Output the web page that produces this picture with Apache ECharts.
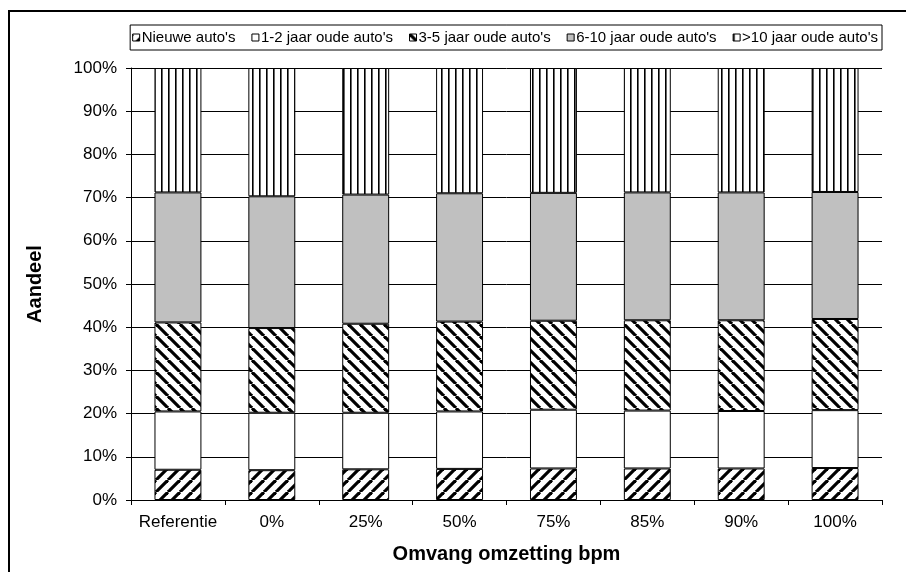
<!DOCTYPE html>
<html>
<head>
<meta charset="utf-8">
<script src="https://cdn.jsdelivr.net/npm/echarts@6/dist/echarts.min.js"></script>
<style>
  html, body { margin: 0; padding: 0; background: #fff; }
  #chart { width: 906px; height: 572px; }
</style>
</head>
<body>
<div id="chart"></div>
<script>
// Share of the car fleet by age class, per conversion scenario of the BPM tax
const categories = ['Referentie', '0%', '25%', '50%', '75%', '85%', '90%', '100%'];
const seriesNames = ["Nieuwe auto's", "1-2 jaar oude auto's", "3-5 jaar oude auto's", "6-10 jaar oude auto's", ">10 jaar oude auto's"];
const nieuw      = [7.0, 6.9, 7.1, 7.2, 7.3, 7.3, 7.3, 7.4];
const jaar1tot2  = [13.5, 13.3, 13.1, 13.3, 13.6, 13.4, 13.3, 13.4];
const jaar3tot5  = [20.6, 19.6, 20.6, 20.8, 20.6, 20.9, 21.0, 21.1];
const jaar6tot10 = [30.1, 30.5, 29.9, 29.7, 29.6, 29.6, 29.6, 29.4];
const ouder10    = [28.8, 29.7, 29.3, 29.0, 28.9, 28.8, 28.8, 28.7];
const yTicks = [0, 10, 20, 30, 40, 50, 60, 70, 80, 90, 100];

const FONT = "'Liberation Sans', Arial, sans-serif";

// Hatch fills drawn on small canvases and tiled by ECharts
function diagonalTile(size, width, forward) {
  const c = document.createElement('canvas');
  c.width = size; c.height = size;
  const g = c.getContext('2d');
  g.fillStyle = '#fff';
  g.fillRect(0, 0, size, size);
  g.strokeStyle = '#000';
  g.lineWidth = width;
  for (const k of [-size, 0, size]) {
    g.beginPath();
    if (forward) { g.moveTo(k, size); g.lineTo(k + size, 0); }
    else { g.moveTo(k, 0); g.lineTo(k + size, size); }
    g.stroke();
  }
  return c;
}
function verticalTile(period, width) {
  const c = document.createElement('canvas');
  c.width = period; c.height = 4;
  const g = c.getContext('2d');
  g.fillStyle = '#fff';
  g.fillRect(0, 0, period, 4);
  g.fillStyle = '#000';
  g.fillRect(0, 0, width, 4);
  return c;
}

const fills = [
  { image: diagonalTile(12, 3.2, true), repeat: 'repeat' },
  '#ffffff',
  { image: diagonalTile(12, 3.2, false), repeat: 'repeat' },
  '#c0c0c0',
  { image: verticalTile(7, 1.6), repeat: 'repeat' }
];
const values = [nieuw, jaar1tot2, jaar3tot5, jaar6tot10, ouder10];

const chart = echarts.init(document.getElementById('chart'), null, { renderer: 'canvas' });
chart.setOption({
  animation: false,
  backgroundColor: '#fff',
  textStyle: { fontFamily: FONT },
  graphic: [{
    type: 'rect',
    shape: { x: 9, y: 11, width: 1000, height: 1000 },
    style: { fill: 'none', stroke: '#000', lineWidth: 2 },
    silent: true
  }],
  legend: {
    right: 24,
    top: 25,
    orient: 'horizontal',
    itemWidth: 7,
    itemHeight: 7,
    itemGap: 16,
    padding: [4, 4, 4, 2],
    borderColor: '#000',
    borderWidth: 1,
    icon: 'rect',
    textStyle: { fontFamily: FONT, fontSize: 15, lineHeight: 17, color: '#000', padding: [0, 0, 0, -3] },
    itemStyle: { borderColor: '#000', borderWidth: 1 },
    data: seriesNames
  },
  grid: { left: 131, right: 24, top: 68, height: 432, containLabel: false },
  xAxis: {
    type: 'category',
    data: categories,
    name: 'Omvang omzetting bpm',
    nameLocation: 'middle',
    nameGap: 44,
    nameTextStyle: { fontFamily: FONT, fontSize: 20, fontWeight: 'bold', color: '#000' },
    axisLine: { lineStyle: { color: '#000', width: 1 } },
    axisTick: { show: true, length: 5, lineStyle: { color: '#000' } },
    axisLabel: { fontFamily: FONT, fontSize: 17, color: '#000', margin: 14, interval: 0 },
    splitLine: { show: false }
  },
  yAxis: {
    type: 'value',
    min: 0,
    max: 100,
    interval: 10,
    name: 'Aandeel',
    nameLocation: 'middle',
    nameGap: 86,
    nameRotate: 90,
    nameTextStyle: { fontFamily: FONT, fontSize: 20, fontWeight: 'bold', color: '#000' },
    axisLine: { show: true, lineStyle: { color: '#000', width: 1 } },
    axisTick: { show: true, length: 5, lineStyle: { color: '#000' } },
    axisLabel: {
      fontFamily: FONT, fontSize: 17, color: '#000', margin: 14,
      formatter: v => yTicks.includes(v) ? v + '%' : ''
    },
    splitLine: { show: true, lineStyle: { color: '#000', width: 1 } }
  },
  series: seriesNames.map((name, i) => ({
    name,
    type: 'bar',
    stack: 'aandeel',
    barWidth: '50%',
    data: values[i],
    itemStyle: { color: fills[i], borderColor: '#000', borderWidth: 1 },
    emphasis: { disabled: true }
  }))
});
</script>
</body>
</html>
